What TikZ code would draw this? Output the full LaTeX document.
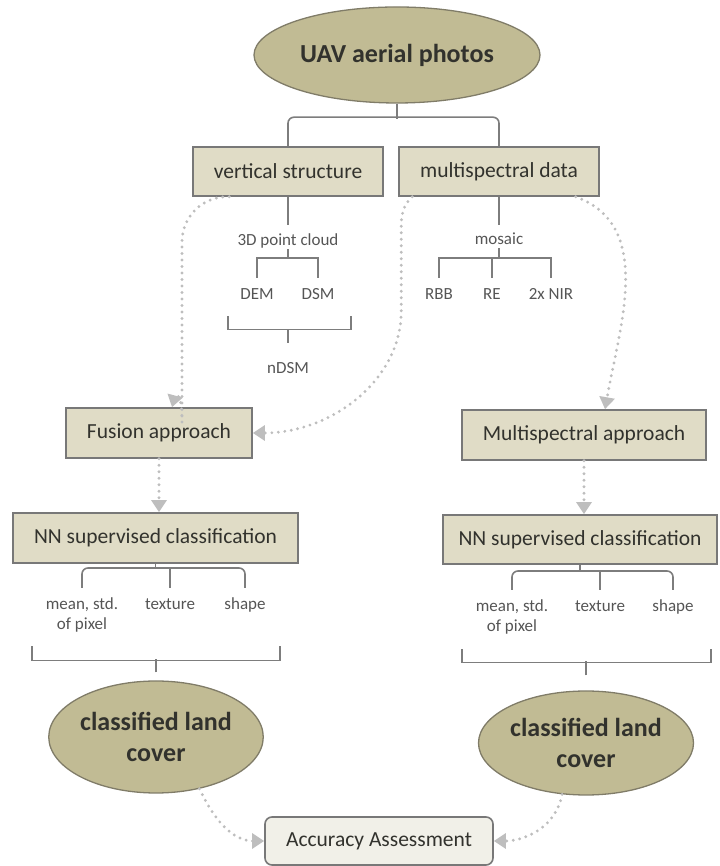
\documentclass[tikz,border=0pt]{standalone}
\usepackage{fontspec}
\setmainfont{Carlito}
\usetikzlibrary{shapes.geometric,arrows.meta}

\definecolor{ovalfill}{RGB}{193,187,148}
\definecolor{ovalline}{RGB}{128,124,104}
\definecolor{boxfill}{RGB}{224,220,198}
\definecolor{boxline}{RGB}{120,120,120}
\definecolor{accfill}{RGB}{241,240,232}
\definecolor{treeline}{RGB}{125,125,125}
\definecolor{dotgray}{RGB}{190,190,190}
\definecolor{txt}{RGB}{50,50,45}
\definecolor{smalltxt}{RGB}{85,85,85}

\tikzset{
	oval/.style={ellipse, draw=ovalline, fill=ovalfill, line width=1.3pt, inner sep=0pt, align=center, text=txt, font=\fontsize{26}{31}\selectfont\bfseries},
	box/.style={rectangle, draw=boxline, fill=boxfill, line width=1.6pt, inner sep=0pt, minimum height=49pt, text=txt, font=\fontsize{21.5}{25}\selectfont},
	accbox/.style={box, fill=accfill, rounded corners=7pt, minimum height=48pt},
	lbl/.style={anchor=north, inner sep=0pt, text height=11.5pt, text depth=3.5pt, align=center, text=smalltxt, font=\fontsize{17}{20}\selectfont},
	lbltwo/.style={lbl, text height={}, text depth={}},
	tree/.style={draw=treeline, line width=1.6pt},
	flow/.style={draw=dotgray, line width=3.2pt, line cap=round, dash pattern=on 0pt off 6.5pt, -{Triangle[width=15pt,length=12pt]}},
}

\begin{document}
\begin{tikzpicture}[x=1pt,y=1pt]
	%%%%% START %%%%%
	\useasboundingbox (0,0) rectangle (719,866);
	
	\node[oval, minimum width=286pt, minimum height=96pt] (uav) at (397,811) {UAV aerial photos};
	\node[box, minimum width=190pt] (vert) at (288,694.5) {vertical structure};
	\node[box, minimum width=200pt] (multi) at (499,694.5) {multispectral data};
	
	\node[lbl] (pc) at (288,632) {3D point cloud};
	\node[lbl] (dem) at (257,578) {DEM};
	\node[lbl] (dsm) at (318,578) {DSM};
	\node[lbl] (ndsm) at (288,504) {nDSM};
	
	\node[lbl] (mos) at (499,633) {mosaic};
	\node[lbl] (rbb) at (439,578) {RBB};
	\node[lbl] (re) at (492,578) {RE};
	\node[lbl] (nir) at (551,578) {2x NIR};
	
	\node[box, minimum width=186pt, minimum height=50pt] (fus) at (159,433) {Fusion approach};
	\node[box, minimum width=244pt, minimum height=50pt] (ma) at (584,431) {Multispectral approach};
	
	\node[box, minimum width=285pt, minimum height=50pt] (nnl) at (155.5,328) {NN supervised classification};
	\node[box, minimum width=274pt] (nnr) at (580,326.5) {NN supervised classification};
	
	\node[lbltwo] (mvl) at (82,268) {mean, std.\\of pixel};
	\node[lbl] (texl) at (170,268) {texture};
	\node[lbl] (shpl) at (245,268) {shape};
	\node[lbltwo] (mvr) at (512,266) {mean, std.\\of pixel};
	\node[lbl] (texr) at (600,266) {texture};
	\node[lbl] (shpr) at (673,266) {shape};
	
	\node[oval, minimum width=214pt, minimum height=112pt] (cll) at (156,129) {classified land\\cover};
	\node[oval, minimum width=215pt, minimum height=104pt] (clr) at (586,123) {classified land\\cover};
	\node[accbox, minimum width=228pt] (acc) at (379,25) {Accuracy Assessment};
	
	% split of the photos
	\draw[tree] (uav.south) -- ++(0,-15);
	\draw[tree, rounded corners=6pt] (vert.north) -- ++(0,29) -| (multi.north);
	
	% vertical structure
	\draw[tree] (vert.south) -- ([yshift=9pt]pc.north);
	\draw[tree] (pc.south) -- ++(0,-9);
	\draw[tree] ([yshift=10pt]dem.north) -- ++(0,20) -| ([yshift=10pt]dsm.north);
	\draw[tree] ([xshift=-29pt,yshift=-13pt]dem.south) -- ++(0,-13) -| ([xshift=33pt,yshift=-13pt]dsm.south);
	\draw[tree] ([yshift=19pt]ndsm.north) -- ++(0,14);
	
	% multispectral data
	\draw[tree] (multi.south) -- ([yshift=8pt]mos.north);
	\draw[tree] (mos.south) -- ++(0,-10);
	\draw[tree] ([yshift=10pt]rbb.north) -- ++(0,20) -| ([yshift=10pt]nir.north);
	\draw[tree] ([yshift=10pt]re.north) -- ++(0,20);
	
	% left classification
	\draw[tree] (nnl.south) -- ++(0,-5);
	\draw[tree, rounded corners=6pt] ([yshift=10pt]mvl.north) -- ++(0,20) -| ([yshift=10pt]shpl.north);
	\draw[tree] ([yshift=10pt]texl.north) -- ++(0,20);
	\draw[tree] ([xshift=-138pt,yshift=-33pt]texl.south) -- ++(0,-14) -| ([xshift=110pt,yshift=-33pt]texl.south);
	\draw[tree] ([yshift=8pt]cll.north) -- ++(0,13);
	
	% right classification
	\draw[tree] (nnr.south) -- ++(0,-7);
	\draw[tree, rounded corners=6pt] ([yshift=10pt]mvr.north) -- ++(0,19) -| ([yshift=10pt]shpr.north);
	\draw[tree] ([yshift=10pt]texr.north) -- ++(0,19);
	\draw[tree] ([xshift=-138pt,yshift=-34pt]texr.south) -- ++(0,-13) -| ([xshift=111pt,yshift=-34pt]texr.south);
	\draw[tree] ([yshift=15pt]clr.north) -- ++(0,14);
	
	% dotted flows
	\draw[flow, rounded corners=45pt] ([xshift=37pt]vert.south west) -| ([xshift=23pt,yshift=30pt]fus.north) to[out=-90,in=75] ([xshift=13pt]fus.north);
	\draw[flow] ([xshift=14pt]multi.south west) .. controls +(-9,-8) and +(0,12) .. ++(-11,-30) -- ++(0,-85) .. controls +(0,-67) and +(80,0) .. (fus.east);
	\draw[flow] ([xshift=-24pt]multi.south east) to[out=-20,in=80] ([xshift=21pt]ma.north);
	\draw[flow] (fus.south) -- (fus.south |- nnl.north);
	\draw[flow] (ma.south) -- (ma.south |- nnr.north);
	\draw[flow] (cll.-50) to[out=-65,in=180] (acc.west);
	\draw[flow] (clr.-115) to[out=-100,in=0] (acc.east);
	
	%%%%% END %%%%%
\end{tikzpicture}
\end{document}
